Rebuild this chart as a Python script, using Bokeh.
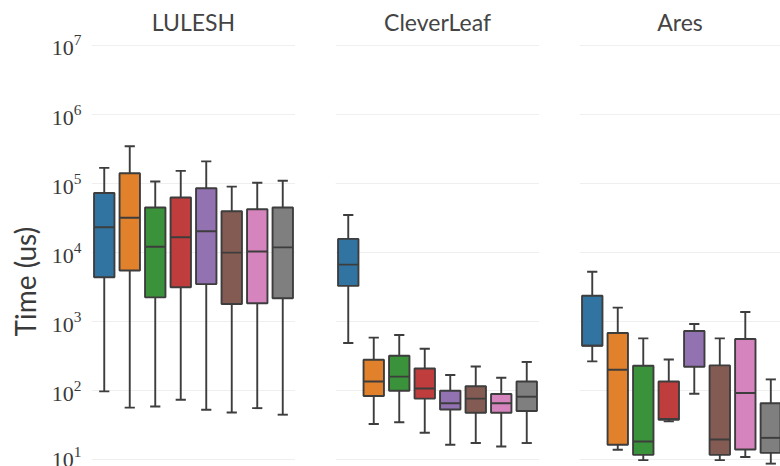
from bokeh.plotting import figure
from bokeh.layouts import row
from bokeh.models import Range1d, FixedTicker, Title, ColumnDataSource
from bokeh.embed import file_html
from bokeh.resources import INLINE

# ---------------- data ----------------
categories = ["v1", "v2", "v3", "v4", "v5", "v6", "v7", "v8"]
colors = ["#3274a1", "#e1812c", "#3a923a", "#c03d3e",
          "#9372b2", "#845b53", "#d684bd", "#7f7f7f"]
panel_titles = ["LULESH", "CleverLeaf", "Ares"]
y_ticks = [1e1, 1e2, 1e3, 1e4, 1e5, 1e6, 1e7]
y_label = "Time (us)"

lulesh_whislo = [98, 57, 59, 74, 53, 48.5, 56, 45]
lulesh_q1 = [4.4e3, 5.5e3, 2.25e3, 3.15e3, 3.5e3, 1.8e3, 1.85e3, 2.18e3]
lulesh_med = [2.33e4, 3.2e4, 1.22e4, 1.67e4, 2.04e4, 1.0e4, 1.04e4, 1.19e4]
lulesh_q3 = [7.3e4, 1.41e5, 4.5e4, 6.3e4, 8.55e4, 3.97e4, 4.25e4, 4.5e4]
lulesh_whishi = [1.69e5, 3.47e5, 1.07e5, 1.53e5, 2.1e5, 9.05e4, 1.03e5, 1.1e5]

cleverleaf_whislo = [491, 33, 35, 24.6, 16.5, 17.5, 15.6, 17.5]
cleverleaf_q1 = [3.3e3, 84, 100, 77, 53.6, 48, 48, 51]
cleverleaf_med = [6.7e3, 136, 160, 108, 66, 77, 66, 82]
cleverleaf_q3 = [1.58e4, 281, 321, 210, 100, 116, 89.5, 136]
cleverleaf_whishi = [3.5e4, 587, 641, 406, 169, 225, 154, 261]

ares_whislo = [266, 14, 9.9, 36, 90.6, 9.9, 11, 8.8]
ares_q1 = [449, 16.5, 11.8, 38, 223, 11.8, 14.1, 12.6]
ares_med = [450, 201, 18.4, 39, 733, 19.7, 92.6, 20.8]
ares_q3 = [2.38e3, 685, 230, 136, 733, 233, 561, 66]
ares_whishi = [5.3e3, 1.6e3, 573, 284, 925, 573, 1.38e3, 146]

panel_data = [
    (lulesh_whislo, lulesh_q1, lulesh_med, lulesh_q3, lulesh_whishi),
    (cleverleaf_whislo, cleverleaf_q1, cleverleaf_med, cleverleaf_q3, cleverleaf_whishi),
    (ares_whislo, ares_q1, ares_med, ares_q3, ares_whishi),
]

EDGE = "#3d3d3d"
LW = 1.9
BOX_W = 0.8
CAP_HALF = 0.2

# frame geometry: (figure width, left border, x_range end)
panel_geom = [(295, 91, 7.5), (244, 40, 7.5), (241, 40, 7.38)]


def make_panel(title, data, geom, first):
    whislo, q1, med, q3, whishi = data
    fw, border, xend = geom
    p = figure(width=fw, height=466,
               x_range=Range1d(-0.5, xend),
               y_range=Range1d(10 ** 0.903, 10 ** 7.13),
               y_axis_type="log", output_backend="svg", toolbar_location=None,
               min_border_left=border, min_border_right=0,
               min_border_top=36, min_border_bottom=0, title=title)
    xs = list(range(len(categories)))
    src = ColumnDataSource(dict(
        x=xs,
        cl=[i - CAP_HALF for i in xs], cr=[i + CAP_HALF for i in xs],
        bl=[i - BOX_W / 2 for i in xs], br=[i + BOX_W / 2 for i in xs],
        whislo=whislo, q1=q1, med=med, q3=q3, whishi=whishi, color=colors))
    p.segment(x0="x", y0="q3", x1="x", y1="whishi", source=src,
              line_color=EDGE, line_width=LW)
    p.segment(x0="x", y0="whislo", x1="x", y1="q1", source=src,
              line_color=EDGE, line_width=LW)
    p.segment(x0="cl", y0="whishi", x1="cr", y1="whishi", source=src,
              line_color=EDGE, line_width=LW)
    p.segment(x0="cl", y0="whislo", x1="cr", y1="whislo", source=src,
              line_color=EDGE, line_width=LW)
    p.vbar(x="x", width=BOX_W, bottom="q1", top="q3", source=src,
           fill_color="color", line_color=EDGE, line_width=LW)
    p.segment(x0="bl", y0="med", x1="br", y1="med", source=src,
              line_color=EDGE, line_width=LW)

    ticker = FixedTicker(ticks=y_ticks, minor_ticks=[])
    p.yaxis.ticker = ticker
    p.ygrid.ticker = ticker
    p.ygrid.grid_line_color = "#efefef"
    p.ygrid.grid_line_width = 1
    p.xgrid.visible = False
    p.xaxis.visible = False
    p.outline_line_color = None
    p.background_fill_color = "white"
    p.border_fill_color = "white"

    p.title.align = "center"
    p.title.text_font = "Lato"
    p.title.text_font_size = "23px"
    p.title.text_font_style = "normal"
    p.title.text_color = "#444444"
    p.title.standoff = 1

    if first:
        ax = p.yaxis[0]
        ax.axis_line_color = None
        ax.major_tick_line_color = None
        ax.minor_tick_line_color = None
        ax.major_tick_out = 0
        ax.major_tick_in = 0
        ax.major_label_standoff = 10
        ax.major_label_text_font = "Liberation Serif"
        ax.major_label_text_font_size = "22px"
        ax.major_label_text_color = "#3a3a3a"
        ylab = Title(text=y_label, align="left", offset=130, standoff=10,
                     vertical_align="top")
        ylab.text_font = "Lato"
        ylab.text_font_size = "28px"
        ylab.text_font_style = "normal"
        ylab.text_color = "#3a3a3a"
        p.add_layout(ylab, "left")
    else:
        p.yaxis.visible = False
    return p


figs = [make_panel(t, d, g, i == 0)
        for i, (t, d, g) in enumerate(zip(panel_titles, panel_data, panel_geom))]
layout = row(*figs, spacing=0)

open("out.html", "w").write(file_html(layout, INLINE))
